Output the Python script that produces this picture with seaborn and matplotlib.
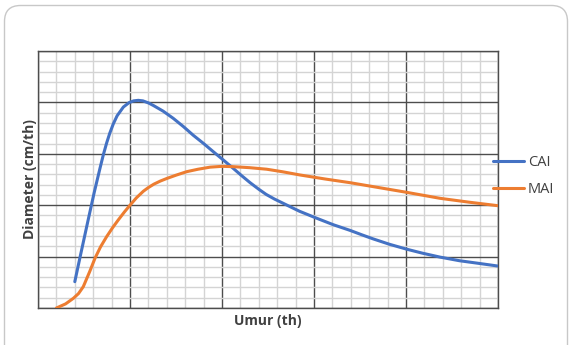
import numpy as np
import pandas as pd
import matplotlib
matplotlib.use("Agg")
import matplotlib.pyplot as plt
from matplotlib.patches import FancyBboxPatch
from matplotlib.transforms import IdentityTransform
from matplotlib.ticker import MultipleLocator, NullFormatter
import seaborn as sns

# values (grid units: 1 minor cell = 1)
cai_x = [2.0, 2.28, 2.73, 3.05, 3.37, 3.55, 3.73, 3.9, 4.09, 4.3, 4.64, 4.95,
         5.2, 5.45, 5.7, 6.0, 6.27, 6.8, 7.35, 7.9, 8.44, 9.0, 9.53, 10.07,
         10.6, 11.05, 11.52, 12.0, 12.4, 12.85, 13.33, 14.2, 15.15, 16.05, 16.96,
         17.6, 18.22, 19.1, 20.04, 20.9, 21.85, 22.9, 24.0, 25.0]
cai_y = [2.56, 4.9, 8.6, 11.2, 13.6, 14.9, 16.05, 17.0, 17.9, 18.7, 19.55, 19.98,
         20.15, 20.2, 20.15, 19.95, 19.7, 19.15, 18.45, 17.65, 16.8, 16.0, 15.2, 14.4,
         13.6, 12.9, 12.2, 11.55, 11.05, 10.6, 10.18, 9.42, 8.73, 8.1, 7.55,
         7.12, 6.72, 6.2, 5.72, 5.33, 4.95, 4.6, 4.33, 4.08]

mai_x = [1.0, 1.5, 1.92, 2.2, 2.46, 2.8, 3.1, 3.4, 3.73, 4.05, 4.36, 4.7, 5.0,
         5.35, 5.72, 6.0, 6.3, 6.65, 7.0, 7.5, 8.08, 8.7, 9.35, 10.0, 10.6, 11.5,
         12.43, 13.3, 14.24, 15.6, 16.96, 18.5, 20.04, 21.85, 23.4, 25.0]
mai_y = [0.0, 0.4, 0.94, 1.4, 2.07, 3.5, 4.85, 5.95, 6.94, 7.8, 8.56, 9.35, 10.0,
         10.72, 11.35, 11.72, 12.05, 12.35, 12.6, 12.92, 13.26, 13.5, 13.7, 13.78,
         13.75, 13.65, 13.5, 13.25, 12.94, 12.55, 12.19, 11.72, 11.25, 10.67, 10.3, 9.95]

series_names = ["CAI", "MAI"]
series_colors = ["#4472C4", "#ED7D31"]

df = pd.concat([
    pd.DataFrame({"umur": cai_x, "diameter": cai_y, "seri": "CAI"}),
    pd.DataFrame({"umur": mai_x, "diameter": mai_y, "seri": "MAI"}),
], ignore_index=True)

sns.set_style("white")
plt.rcParams["font.family"] = ["Open Sans", "DejaVu Sans"]

fig = plt.figure(figsize=(5.72, 3.45), dpi=100)
W, H = 572, 345

# rounded outer frame (pixel coords, bottom edge runs off the picture)
frame = FancyBboxPatch((4.5, -30), 563, 30 + H - 5.5,
                       boxstyle="round,pad=0,rounding_size=16",
                       transform=IdentityTransform(), facecolor="white",
                       edgecolor="#c8c8c8", linewidth=1.0, zorder=-10)
fig.patches.append(frame)

ax = fig.add_axes([38 / W, 1 - 308 / H, 460 / W, 257 / H])
ax.set_zorder(5)
ax.set_facecolor("none")

sns.lineplot(data=df, x="umur", y="diameter", hue="seri", hue_order=series_names,
             palette=series_colors, sort=False, estimator=None, linewidth=2.2,
             ax=ax, zorder=3)
for ln in ax.get_lines():
    ln.set_solid_joinstyle("round")
    ln.set_solid_capstyle("round")

ax.set_xlim(0, 25)
ax.set_ylim(0, 25)
ax.xaxis.set_major_locator(MultipleLocator(5))
ax.xaxis.set_minor_locator(MultipleLocator(1))
ax.yaxis.set_major_locator(MultipleLocator(5))
ax.yaxis.set_minor_locator(MultipleLocator(1))
ax.grid(which="minor", color="#d4d4d4", linewidth=1.0, zorder=1)
ax.grid(which="major", color="#4d4d4d", linewidth=1.0, zorder=2)
ax.set_axisbelow(True)
ax.tick_params(which="both", length=0, pad=0)
ax.xaxis.set_major_formatter(NullFormatter())
ax.yaxis.set_major_formatter(NullFormatter())
for s in ax.spines.values():
    s.set_visible(True)
    s.set_color("#4d4d4d")
    s.set_linewidth(1.0)

ax.set_xlabel("Umur (th)", fontsize=10, fontweight="bold", color="#404040", labelpad=4)
ax.set_ylabel("Diameter (cm/th)", fontsize=10, fontweight="bold", color="#404040", labelpad=1)

handles, labels = ax.get_legend_handles_labels()
ax.get_legend().remove()
leg = fig.legend(handles, labels, loc="upper left",
                 bbox_to_anchor=(493 / W, 1 - 155 / H), frameon=False,
                 fontsize=10.5, handlelength=2.1, handletextpad=0.3,
                 labelspacing=0.8, borderpad=0, borderaxespad=0,
                 labelcolor="#404040")
leg.set_zorder(6)

fig.savefig("out.png", dpi=100)
